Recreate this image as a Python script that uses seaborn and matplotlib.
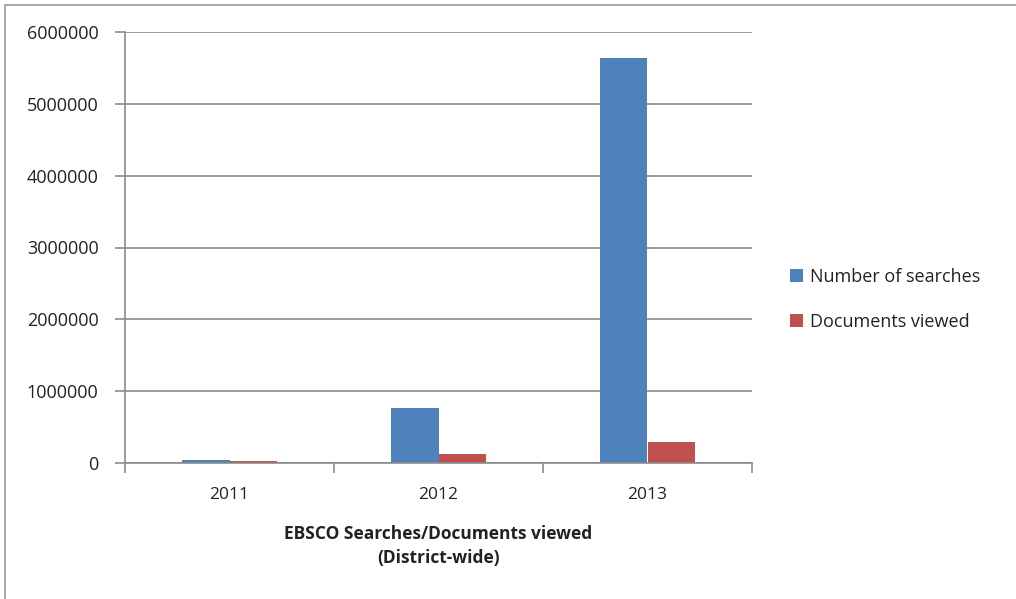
import matplotlib
matplotlib.use("Agg")
import matplotlib.pyplot as plt
import seaborn as sns
import pandas as pd
from matplotlib.lines import Line2D

years = ["2011", "2012", "2013"]
searches = [35000, 770000, 5640000]
documents = [30000, 125000, 290000]
series_names = ["Number of searches", "Documents viewed"]
colors = ["#4F81BD", "#C0504D"]
yticks = [0, 1000000, 2000000, 3000000, 4000000, 5000000, 6000000]

df = pd.DataFrame({
    "Year": years * 2,
    "Value": searches + documents,
    "Series": [series_names[0]] * 3 + [series_names[1]] * 3,
})

sns.set_style("white")
plt.rcParams["font.family"] = ["Open Sans", "DejaVu Sans"]

fig = plt.figure(figsize=(10.16, 5.99), dpi=100)
ax = fig.add_axes([125 / 1016, 1 - 463 / 599, (752 - 125) / 1016, (463 - 32) / 599])

sns.barplot(data=df, x="Year", y="Value", hue="Series", palette=colors,
            width=0.45, ax=ax, saturation=1, legend=True, linewidth=0, edgecolor="none")

ax.set_ylim(0, 6000000)
ax.set_xlim(-0.5, 2.5)
ax.set_yticks(yticks)
ax.set_yticklabels([str(v) for v in yticks], fontsize=13, color="#222222")
ax.yaxis.grid(True, color="#8c8c8c", linewidth=1.2)
ax.set_axisbelow(True)
ax.tick_params(axis="y", length=7, width=1.2, color="#8c8c8c", pad=12, left=True)
ax.tick_params(axis="x", which="major", length=0, pad=17, labelsize=12.5, labelcolor="#222222")
ax.set_xticks([-0.5, 0.5, 1.5, 2.5], minor=True)
ax.tick_params(axis="x", which="minor", length=7, width=1.2, color="#8c8c8c", bottom=True)

for s in ["top", "right"]:
    ax.spines[s].set_visible(False)
for s in ["left", "bottom"]:
    ax.spines[s].set_color("#8c8c8c")
    ax.spines[s].set_linewidth(1.2)

ax.set_ylabel("")
ax.set_xlabel("EBSCO Searches/Documents viewed\n(District-wide)", fontsize=12.5,
              fontweight="bold", color="#222222", labelpad=16, linespacing=1.45)

leg = ax.legend(loc="center left", bbox_to_anchor=(1.035, 0.38), frameon=False,
                fontsize=13, handlelength=0.7, handleheight=0.7, handletextpad=0.4,
                labelspacing=1.5)
for t in leg.get_texts():
    t.set_color("#222222")

# partial border at left and top
fig.add_artist(Line2D([5 / 1016, 5 / 1016], [0, 1 - 5 / 599], transform=fig.transFigure,
                      color="#999999", linewidth=1.2))
fig.add_artist(Line2D([5 / 1016, 1], [1 - 5 / 599, 1 - 5 / 599], transform=fig.transFigure,
                      color="#999999", linewidth=1.2))

fig.savefig("out.png", dpi=100)
